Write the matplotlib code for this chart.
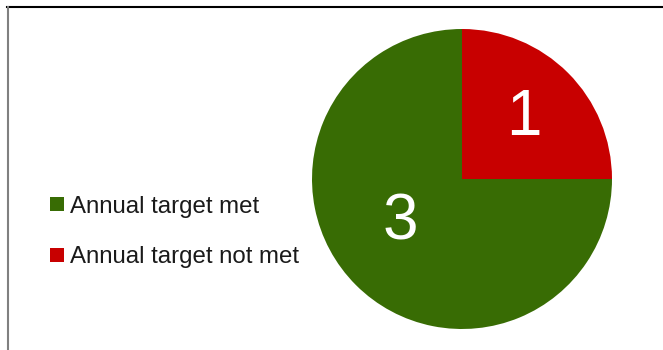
import matplotlib.pyplot as plt
from matplotlib.lines import Line2D

# data
categories = ["Annual target not met", "Annual target met"]
counts = [1, 3]
colors = ["#C80000", "#386C04"]

plt.rcParams['font.family'] = ['Liberation Sans', 'DejaVu Sans']

fig = plt.figure(figsize=(6.63, 3.5), dpi=100)
ax = fig.add_axes([312 / 663, 21 / 350, 300 / 663, 300 / 350])

wedges, texts, autotexts = ax.pie(
    counts, colors=colors, startangle=0, counterclock=True,
    autopct=lambda p: f"{round(p * sum(counts) / 100):d}",
    pctdistance=0.6, radius=1.0,
    textprops=dict(color="white", fontsize=46),
    wedgeprops=dict(linewidth=0),
)
# move labels a bit like the original layout
autotexts[0].set_position((0.41, 0.41))
autotexts[1].set_position((-0.41, -0.29))
ax.set_xlim(-1, 1)
ax.set_ylim(-1, 1)
ax.set_aspect('equal')

# legend, green entry first
handles = [Line2D([], [], marker='s', linestyle='none', markersize=9.4,
                  markerfacecolor=colors[i], markeredgewidth=0)
           for i in (1, 0)]
labels = [categories[1], categories[0]]
fig.legend(handles, labels, loc='center left',
           bbox_to_anchor=(0.0754, 0.337), frameon=False,
           borderpad=0, borderaxespad=0, handlelength=0.6,
           handletextpad=0.22, labelspacing=1.2, fontsize=17.3,
           labelcolor="#1a1a1a")

# frame lines at top and left
fig.add_artist(Line2D([7 / 663, 1], [1 - 7 / 350, 1 - 7 / 350],
                      transform=fig.transFigure, color="black", linewidth=1.5))
fig.add_artist(Line2D([7.5 / 663, 7.5 / 663], [0, 1 - 7 / 350],
                      transform=fig.transFigure, color="#808080", linewidth=1.5))

fig.savefig("out.png", dpi=100)
